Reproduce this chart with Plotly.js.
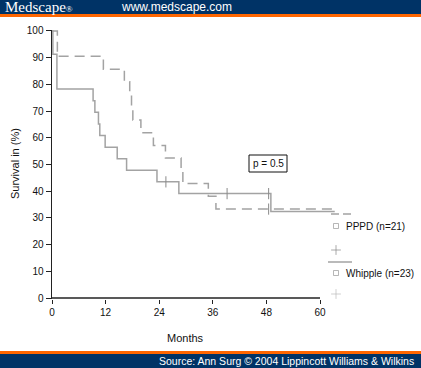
<!DOCTYPE html>
<html><head><meta charset="utf-8">
<script src="https://cdn.plot.ly/plotly-3.0.1.min.js"></script>
<style>html,body{margin:0;padding:0;background:#fff;}#c{width:421px;height:368px;}</style>
</head><body><div id="c"></div>
<script>
// Data (Kaplan-Meier survival, %)
var pppdMonths   = [0, 1.2, 11.5, 16.2, 17.4, 17.8, 18.1, 19.9, 22.7, 25.4, 28.9, 29.3, 35.0, 36.7, 63.0];
var pppdSurv     = [100, 90.5, 85.7, 81.0, 76.2, 71.4, 66.7, 61.9, 57.1, 52.4, 47.6, 42.9, 38.1, 33.3, 33.3];
var whipMonths   = [0, 0.2, 1.1, 9.2, 9.6, 10.4, 10.7, 11.9, 14.6, 16.7, 23.5, 28.4, 49.0, 63.3];
var whipSurv     = [100, 91.3, 78.3, 73.9, 69.6, 65.2, 60.9, 56.5, 52.2, 47.8, 43.5, 39.1, 32.4, 32.4];
var pppdCensMonths = [48.5];
var pppdCensSurv   = [33.3];
var whipCensMonths = [25.5, 39.2, 48.5];
var whipCensSurv   = [43.5, 39.1, 39.1];
var xTicks = [0, 12, 24, 36, 48, 60];
var yTicks = [0, 10, 20, 30, 40, 50, 60, 70, 80, 90, 100];
var pppdLabel = 'PPPD (n=21)';
var whipLabel = 'Whipple (n=23)';

var W = 421, H = 368, L = 52, R = 74, T = 30, B = 69;
var PW = W - L - R, PH = H - T - B;
function px(x){ return (x - L) / PW; }
function py(y){ return (H - B - y) / PH; }

var curveColor = '#a3a3a3';
var censColor = '#8a8a8a';
var traces = [
  {x: pppdMonths, y: pppdSurv, mode: 'lines', line: {shape: 'hv', color: curveColor, width: 1.5, dash: '10px,6px'}, hoverinfo: 'skip'},
  {x: whipMonths, y: whipSurv, mode: 'lines', line: {shape: 'hv', color: curveColor, width: 1.5}, hoverinfo: 'skip'},
  {x: pppdCensMonths, y: pppdCensSurv, mode: 'markers', marker: {symbol: 'line-ns-open', size: 8, color: censColor, line: {color: censColor, width: 1}}, hoverinfo: 'skip'},
  {x: whipCensMonths, y: whipCensSurv, mode: 'markers', marker: {symbol: 'line-ns-open', size: 8, color: censColor, line: {color: censColor, width: 1}}, hoverinfo: 'skip'}
];

var navy = '#003366', orange = '#ff6600';
var shapes = [
  {type: 'rect', xref: 'paper', yref: 'paper', x0: px(0), x1: px(W), y0: py(0), y1: py(14), fillcolor: navy, line: {width: 0}},
  {type: 'rect', xref: 'paper', yref: 'paper', x0: px(0), x1: px(W), y0: py(14), y1: py(17), fillcolor: orange, line: {width: 0}},
  {type: 'rect', xref: 'paper', yref: 'paper', x0: px(0), x1: px(W), y0: py(351), y1: py(354), fillcolor: orange, line: {width: 0}},
  {type: 'rect', xref: 'paper', yref: 'paper', x0: px(0), x1: px(W), y0: py(354), y1: py(368), fillcolor: navy, line: {width: 0}},
  // x axis line (0..60)
  {type: 'line', xref: 'x', yref: 'y', x0: 0, x1: 60, y0: 0, y1: 0, line: {color: '#222', width: 1.5}},
  // p-value box
  {type: 'rect', xref: 'paper', yref: 'paper', x0: px(249), x1: px(287), y0: py(155), y1: py(172), line: {color: '#111', width: 1}, fillcolor: 'rgba(0,0,0,0)'},
  // legend line samples
  {type: 'line', xref: 'paper', yref: 'paper', x0: px(331), x1: px(353), y0: py(214), y1: py(214), line: {color: curveColor, width: 1.5, dash: '8px,4px'}},
  {type: 'line', xref: 'paper', yref: 'paper', x0: px(328), x1: px(352), y0: py(262), y1: py(262), line: {color: curveColor, width: 1.5}}
];

var legendMarkers = {
  x: [px(336), px(336), px(336), px(336)],
  y: [py(226), py(250), py(273), py(294)],
  mode: 'markers', xaxis: 'x2', yaxis: 'y2', hoverinfo: 'skip',
  marker: {symbol: ['square-open', 'cross-thin-open', 'square-open', 'cross-thin-open'], size: [5, 7, 5, 7],
           color: ['#999', '#888', '#999', '#bbb'], line: {color: ['#999', '#888', '#999', '#bbb'], width: 1}},
  cliponaxis: false
};
traces.push(legendMarkers);

var font = 'Liberation Sans, Arial, sans-serif';
var annotations = [
  {xref: 'paper', yref: 'paper', x: px(3), y: py(7), xanchor: 'left', yanchor: 'middle', showarrow: false,
   text: 'Medscape<span style="font-size:9px">®</span>', font: {family: 'Liberation Serif, Times New Roman, serif', size: 15, color: '#fff'}},
  {xref: 'paper', yref: 'paper', x: px(119), y: py(7), xanchor: 'left', yanchor: 'middle', showarrow: false,
   text: 'www.medscape.com', font: {family: font, size: 12, color: '#fff'}},
  {xref: 'paper', yref: 'paper', x: px(416), y: py(361), xanchor: 'right', yanchor: 'middle', showarrow: false,
   text: 'Source: Ann Surg © 2004 Lippincott Williams &amp; Wilkins', font: {family: font, size: 10.5, color: '#fff'}},
  {xref: 'paper', yref: 'paper', x: px(185), y: py(338), xanchor: 'center', yanchor: 'middle', showarrow: false,
   text: 'Months', font: {family: font, size: 11, color: '#111'}},
  {xref: 'paper', yref: 'paper', x: px(15), y: py(164), xanchor: 'center', yanchor: 'middle', showarrow: false, textangle: -90,
   text: 'Survival in (%)', font: {family: font, size: 11, color: '#111'}},
  {xref: 'paper', yref: 'paper', x: px(268), y: py(163.5), xanchor: 'center', yanchor: 'middle', showarrow: false,
   text: 'p = 0.5', font: {family: font, size: 10, color: '#111'}},
  {xref: 'paper', yref: 'paper', x: px(344), y: py(226), xanchor: 'left', yanchor: 'middle', showarrow: false,
   text: pppdLabel, font: {family: font, size: 10, color: '#111'}},
  {xref: 'paper', yref: 'paper', x: px(344), y: py(273), xanchor: 'left', yanchor: 'middle', showarrow: false,
   text: whipLabel, font: {family: font, size: 10, color: '#111'}}
];

var layout = {
  width: W, height: H, margin: {l: L, r: R, t: T, b: B},
  paper_bgcolor: '#fff', plot_bgcolor: '#fff', showlegend: false,
  xaxis: {range: [0, PW / (268 / 60)], tickvals: xTicks, ticktext: xTicks.map(String), ticks: 'outside', ticklen: 4,
          tickcolor: '#222', tickwidth: 1, showline: false, showgrid: false, zeroline: false,
          tickfont: {family: font, size: 10, color: '#111'}},
  yaxis: {range: [-0.37, 100.37], tickvals: yTicks, ticktext: yTicks.map(String), ticks: 'outside', ticklen: 5,
          tickcolor: '#222', tickwidth: 1, showline: true, linecolor: '#222', linewidth: 1.5, showgrid: false, zeroline: false,
          tickfont: {family: font, size: 10, color: '#111'}},
  xaxis2: {range: [0, 1], overlaying: 'x', visible: false, fixedrange: true},
  yaxis2: {range: [0, 1], overlaying: 'y', visible: false, fixedrange: true},
  shapes: shapes, annotations: annotations
};

Plotly.newPlot('c', traces, layout, {staticPlot: true, displayModeBar: false});
</script></body></html>
